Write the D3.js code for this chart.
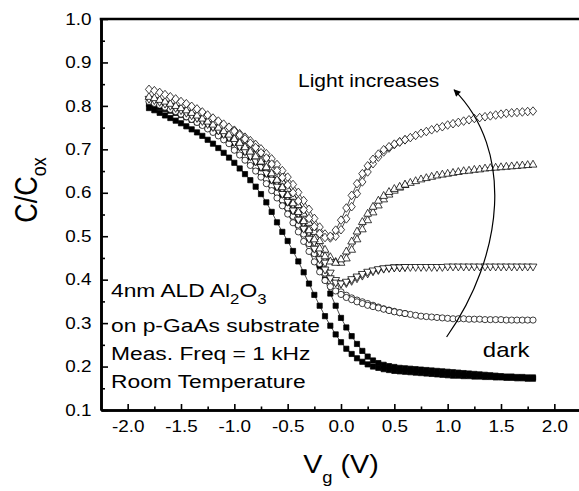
<!DOCTYPE html>
<html><head><meta charset="utf-8">
<script src="https://cdn.jsdelivr.net/npm/d3@7"></script>
<style>html,body{margin:0;padding:0;background:#fff;} svg{display:block;}</style>
</head><body>
<svg id="c" width="579" height="491"></svg>
<script>
// ---------------- data ----------------
const Vg = [-1.80,-1.75,-1.70,-1.65,-1.60,-1.55,-1.50,-1.45,-1.40,-1.35,-1.30,-1.25,-1.20,-1.15,-1.10,-1.05,-1.00,
  -0.95,-0.90,-0.85,-0.80,-0.75,-0.70,-0.65,-0.60,-0.55,-0.50,-0.45,-0.40,-0.35,-0.30,-0.25,-0.20,-0.15,-0.10,-0.05,
  0.00,0.05,0.10,0.15,0.20,0.25,0.30,0.35,0.40,0.45,0.50,0.55,0.60,
  0.65,0.70,0.75,0.80,0.85,0.90,0.95,1.00,1.05,1.10,1.15,1.20,1.25,1.30,1.35,1.40,1.45,1.50,1.55,1.60,1.65,1.70,1.75,1.80];

// dark (filled squares) - two sweeps
const darkFwd = [.795,.790,.784,.778,.772,.766,.760,.753,.746,.739,.731,.722,.713,.703,.692,.681,.669,
  .656,.643,.629,.614,.597,.578,.556,.532,.510,.489,.466,.442,.417,.391,.365,.340,.316,.294,.274,
  .256,.241,.229,.219,.211,.205,.200,.197,.194,.192,.190,.189,.188,
  .187,.186,.185,.184,.183,.182,.181,.180,.179,.179,.178,.178,.177,.177,.176,.176,.175,.175,.174,.174,.173,.173,.172,.172];
const darkRev = [.805,.801,.797,.793,.789,.784,.779,.774,.768,.762,.756,.750,.743,.736,.728,.720,.711,
  .702,.692,.681,.670,.657,.644,.629,.613,.596,.577,.557,.535,.512,.487,.461,.432,.400,.368,.340,
  .312,.290,.270,.252,.236,.223,.214,.208,.204,.201,.199,.197,.196,
  .195,.194,.193,.192,.191,.190,.189,.188,.187,.186,.185,.184,.183,.182,.181,.180,.179,.178,.177,.177,.176,.176,.175,.175];

// light levels, full sweep
const circleFwd = [.810,.806,.802,.797,.792,.787,.781,.775,.769,.762,.755,.747,.739,.731,.722,.713,.703,
  .693,.682,.670,.658,.645,.631,.616,.600,.583,.565,.546,.526,.505,.483,.460,.437,.415,.396,.382,
  .372,.364,.358,.353,.349,.345,.341,.337,.333,.330,.327,.324,.322,
  .320,.318,.316,.315,.314,.313,.312,.311,.310,.310,.310,.309,.309,.309,.308,.308,.308,.308,.307,.307,.307,.307,.307,.307];
const downFwd = [.815,.812,.808,.804,.799,.794,.789,.783,.777,.771,.764,.757,.750,.742,.734,.726,.717,
  .708,.698,.688,.677,.665,.652,.638,.623,.607,.590,.571,.551,.530,.508,.485,.462,.438,.415,.398,
  .390,.391,.396,.402,.408,.413,.418,.421,.424,.426,.427,.427,.428,
  .428,.428,.428,.428,.428,.428,.428,.429,.429,.429,.429,.429,.429,.429,.429,.429,.429,.429,.429,.429,.429,.429,.429,.429];
const upFwd = [.822,.819,.815,.811,.806,.801,.796,.791,.785,.779,.772,.765,.758,.751,.743,.735,.727,
  .719,.710,.701,.691,.680,.669,.656,.642,.627,.610,.592,.573,.553,.532,.511,.490,.470,.453,.442,
  .440,.450,.470,.494,.517,.538,.556,.572,.586,.597,.606,.613,.619,
  .624,.628,.632,.635,.638,.641,.643,.645,.647,.649,.651,.652,.654,.655,.657,.658,.659,.660,.661,.662,.663,.664,.665,.666];
const diamondFwd = [.838,.835,.831,.826,.821,.816,.810,.805,.799,.793,.786,.779,.772,.765,.758,.751,.744,
  .736,.728,.720,.711,.701,.690,.678,.665,.651,.636,.619,.601,.582,.562,.541,.521,.505,.496,.500,
  .515,.540,.568,.598,.625,.648,.667,.682,.694,.703,.711,.717,.722,
  .727,.732,.737,.741,.745,.749,.752,.756,.759,.762,.765,.768,.771,.773,.775,.777,.779,.781,.783,.784,.785,.786,.787,.788];

// return sweeps, only where they separate (Vg -1.00 ... 0.60)
const VgRev = Vg.slice(16, 49);
const circleRev = [.698,.687,.675,.663,.650,.636,.621,.605,.588,.570,.551,.531,.510,.488,.465,.441,.418,.398,.384,.374,
  .366,.359,.354,.349,.345,.341,.338,.335,.332,.329,.326,.324,.322];
const downRev = [.715,.705,.694,.683,.671,.658,.644,.629,.613,.596,.578,.558,.537,.516,.493,.470,.446,.422,.402,.392,
  .390,.394,.400,.406,.412,.417,.420,.423,.425,.426,.427,.427,.428];
const upRev = [.725,.716,.706,.696,.685,.673,.660,.646,.631,.614,.596,.577,.557,.536,.515,.494,.473,.455,.443,.440,
  .448,.466,.489,.512,.534,.553,.569,.583,.594,.603,.610,.615,.620];
const diamondRev = [.742,.733,.724,.714,.704,.692,.680,.666,.651,.635,.618,.600,.581,.561,.541,.522,.506,.497,.500,.514,
  .537,.565,.594,.621,.644,.662,.677,.689,.699,.706,.712,.717,.722];

const xTicks = [-2.0,-1.5,-1.0,-0.5,0.0,0.5,1.0,1.5,2.0];
const xMinor = [-1.75,-1.25,-0.75,-0.25,0.25,0.75,1.25,1.75];
const yTicks = [0.1,0.2,0.3,0.4,0.5,0.6,0.7,0.8,0.9,1.0];
const yMinor = [0.15,0.25,0.35,0.45,0.55,0.65,0.75,0.85,0.95];

const noteLines = ["on p-GaAs substrate","Meas. Freq = 1 kHz","Room Temperature"];
const arrowPath = [[0.99,0.268],[1.53,0.457],[1.625,0.698],[1.06,0.837]];

// ---------------- drawing ----------------
const FONT = "'Liberation Sans', Arial, Helvetica, sans-serif";
const SX = 1.18;
const svg = d3.select("#c").style("font-family", FONT);
svg.append("rect").attr("width",579).attr("height",491).attr("fill","#fff");

const x = d3.scaleLinear().domain([-2.25, 2.25]).range([101, 581]);
const y = d3.scaleLinear().domain([0.1, 1.0]).range([410, 19]);

// axes
const gx = svg.append("g").attr("transform", `translate(0,${y(0.1)})`)
  .call(d3.axisBottom(x).tickValues(xTicks).tickSize(-6).tickSizeOuter(0).tickPadding(11).tickFormat(d => d.toFixed(1)));
const gxm = svg.append("g").attr("transform", `translate(0,${y(0.1)})`)
  .call(d3.axisBottom(x).tickValues(xMinor).tickSize(-3.5).tickSizeOuter(0).tickFormat(""));
const gy = svg.append("g").attr("transform", `translate(${x(-2.25)},0)`)
  .call(d3.axisLeft(y).tickValues(yTicks).tickSize(-7).tickSizeOuter(0).tickPadding(8).tickFormat(d => d.toFixed(1)));
const gym = svg.append("g").attr("transform", `translate(${x(-2.25)},0)`)
  .call(d3.axisLeft(y).tickValues(yMinor).tickSize(-4).tickSizeOuter(0).tickFormat(""));
[gx,gxm,gy,gym].forEach(g => {
  g.select(".domain").attr("stroke","#000").attr("stroke-width",2.6);
  g.selectAll(".tick line").attr("stroke","#000").attr("stroke-width",1.6);
  g.selectAll(".tick text").attr("font-size",16).attr("font-family",FONT).attr("fill","#000")
    .attr("transform",`scale(${SX},1)`);
});
// top & right frame
svg.append("line").attr("x1",x(-2.25)-1.3).attr("x2",x(2.25)).attr("y1",y(1.0)).attr("y2",y(1.0))
  .attr("stroke","#000").attr("stroke-width",2.6);
svg.append("line").attr("x1",x(2.25)).attr("x2",x(2.25)).attr("y1",y(1.0)).attr("y2",y(0.1))
  .attr("stroke","#000").attr("stroke-width",2.6);

// series
const line = d3.line().x(d => x(d[0])).y(d => y(d[1]));
const zip = (vs, cs) => cs.map((c,i) => [vs[i], c]);
const shapes = {
  square: "M-2.6,-2.6h5.2v5.2h-5.2z",
  circle: "M3.1,0A3.1,3.1 0 1,1 -3.1,0A3.1,3.1 0 1,1 3.1,0Z",
  down: "M0,3.9L3.9,-3L-3.9,-3Z",
  up: "M0,-3.9L3.9,3L-3.9,3Z",
  diamond: "M0,-4.3L3.6,0L0,4.3L-3.6,0Z"
};
const series = [
  {v:Vg, c:darkFwd, s:"square", fill:"#000"},
  {v:Vg, c:darkRev, s:"square", fill:"#000"},
  {v:Vg, c:circleFwd, s:"circle", fill:"#fff"},
  {v:VgRev, c:circleRev, s:"circle", fill:"#fff"},
  {v:Vg, c:downFwd, s:"down", fill:"#fff"},
  {v:VgRev, c:downRev, s:"down", fill:"#fff"},
  {v:Vg, c:upFwd, s:"up", fill:"#fff"},
  {v:VgRev, c:upRev, s:"up", fill:"#fff"},
  {v:Vg, c:diamondFwd, s:"diamond", fill:"#fff"},
  {v:VgRev, c:diamondRev, s:"diamond", fill:"#fff"}
];
const plot = svg.append("g");
series.forEach(sr => {
  const data = zip(sr.v, sr.c);
  plot.append("path").attr("d", line(data)).attr("fill","none").attr("stroke","#000").attr("stroke-width",0.7);
  plot.selectAll(null).data(data).enter().append("path")
    .attr("d", shapes[sr.s])
    .attr("transform", d => `translate(${x(d[0])},${y(d[1])})`)
    .attr("fill", sr.fill).attr("stroke","#000").attr("stroke-width",0.75);
});

// arrow
const defs = svg.append("defs");
defs.append("marker").attr("id","ah").attr("viewBox","0 0 10 10").attr("refX",9).attr("refY",5)
  .attr("markerUnits","userSpaceOnUse").attr("markerWidth",10).attr("markerHeight",7).attr("orient","auto")
  .append("path").attr("d","M0,0L10,5L0,10Z").attr("fill","#000");
const ap = arrowPath.map(p => [x(p[0]), y(p[1])]);
svg.append("path").attr("d", `M${ap[0]}C${ap[1]} ${ap[2]} ${ap[3]}`)
  .attr("fill","none").attr("stroke","#000").attr("stroke-width",1.2).attr("marker-end","url(#ah)");

// text helper
function txt(px, py, size, anchor, sx) {
  return svg.append("text").attr("transform", `translate(${px},${py}) scale(${sx||SX},1)`)
    .attr("font-size", size).attr("text-anchor", anchor || "start").attr("fill","#000");
}
txt(x(-0.403), y(0.843), 17.5, "start", 1.2).text("Light increases");
txt(x(1.33), y(0.222), 20, "start", 1.2).text("dark");

const t1 = txt(x(-2.156), y(0.36), 19, "start", 1.2);
t1.append("tspan").text("4nm ALD Al");
t1.append("tspan").attr("font-size",14).attr("dy",7).text("2");
t1.append("tspan").attr("dy",-7).text("O");
t1.append("tspan").attr("font-size",14).attr("dy",7).text("3");
const noteC = [0.2795, 0.215, 0.1505];
noteLines.forEach((s,i) => txt(x(-2.156), y(noteC[i]), 19, "start", 1.2).text(s));

// axis titles
const xt = txt(x(0.0), 473, 25, "middle", 1.15);
xt.append("tspan").text("V");
xt.append("tspan").attr("font-size",16).attr("dy",10).text("g");
xt.append("tspan").attr("dy",-10).text(" (V)");

const yt = svg.append("text").attr("transform", `translate(37,190) scale(1.15,1) rotate(-90)`)
  .attr("font-size",27).attr("text-anchor","middle").attr("fill","#000");
yt.append("tspan").text("C/C");
yt.append("tspan").attr("font-size",18).attr("dy",8).text("ox");
</script>
</body></html>
